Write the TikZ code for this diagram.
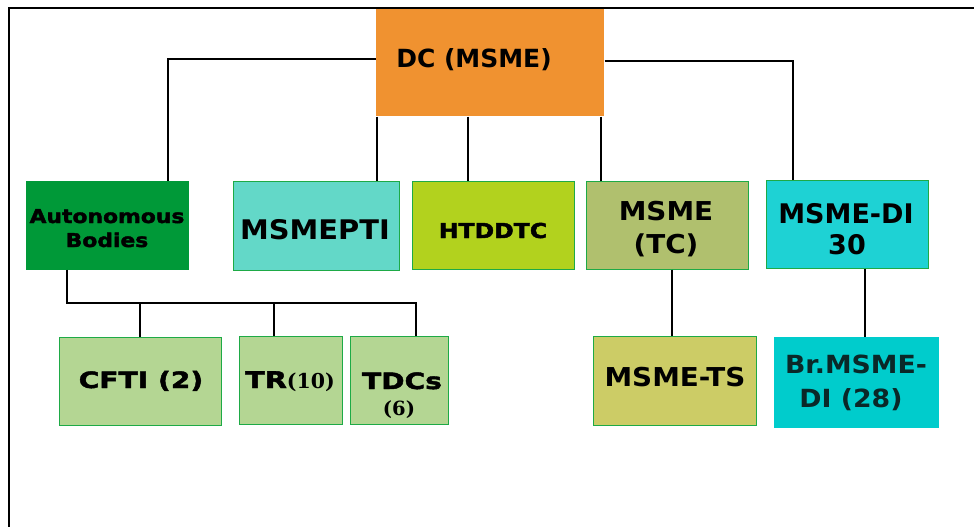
\documentclass[tikz,border=0pt]{standalone}
\usepackage{fontspec}
\newfontfamily\fd{DejaVu Sans}
\newfontfamily\fa[FakeStretch=1.07]{DejaVu Sans}
\newfontfamily\fb[FakeStretch=1.15,FakeBold=2]{DejaVu Sans}
\newfontfamily\fc[FakeStretch=1.25,FakeBold=2]{DejaVu Sans}
\newfontfamily\fs{DejaVu Serif}
\newcommand\setfsz[2]{\fontsize{#1}{#2}\selectfont}
\definecolor{dcorange}{RGB}{240,146,48}
\definecolor{autog}{RGB}{0,153,56}
\definecolor{ptic}{RGB}{99,216,200}
\definecolor{htdc}{RGB}{178,210,30}
\definecolor{tcc}{RGB}{176,192,110}
\definecolor{dic}{RGB}{30,210,212}
\definecolor{lgreen}{RGB}{180,214,147}
\definecolor{tsc}{RGB}{204,204,102}
\definecolor{brc}{RGB}{0,204,204}
\definecolor{boxline}{RGB}{30,170,70}
\definecolor{brtext}{RGB}{10,40,40}
\tikzset{
  box/.style={draw=boxline, line width=0.7pt, inner sep=0pt, anchor=north west},
  lbl/.style={inner sep=0pt, anchor=base, text=black},
  link/.style={draw=black, line width=1.3pt},
  frameline/.style={draw=black, line width=1.6pt},
}
\begin{document}
\begin{tikzpicture}[x=1pt,y=-1pt]
\useasboundingbox (0,0) rectangle (974,527);
\fill[white] (0,0) rectangle (974,527);
% frame
\draw[frameline] (9,527) -- (9,8) -- (974,8);
% boxes
\node[box, draw=none, fill=dcorange, minimum width=228pt, minimum height=107pt] (dc) at (376,9) {};
\node[box, draw=autog, fill=autog, minimum width=162pt, minimum height=88pt] (auto) at (26,181) {};
\node[box, fill=ptic, minimum width=166pt, minimum height=89pt] (pti) at (233,181) {};
\node[box, fill=htdc, minimum width=162pt, minimum height=88pt] (htd) at (412,181) {};
\node[box, fill=tcc, minimum width=162pt, minimum height=88pt] (tc) at (586,181) {};
\node[box, fill=dic, minimum width=162pt, minimum height=88pt] (di) at (766,180) {};
\node[box, fill=lgreen, minimum width=162pt, minimum height=88pt] (cfti) at (59,337) {};
\node[box, fill=lgreen, minimum width=103pt, minimum height=88pt] (tr) at (239,336) {};
\node[box, fill=lgreen, minimum width=98pt, minimum height=88pt] (tdc) at (350,336) {};
\node[box, fill=tsc, minimum width=163pt, minimum height=89pt] (ts) at (593,336) {};
\node[box, draw=brc, fill=brc, minimum width=164pt, minimum height=90pt] (br) at (774,337) {};
% texts
\node[lbl, font={\fd\bfseries\setfsz{25}{28}}] (dct) at (474,67) {DC (MSME)};
\node[lbl, font={\fb\bfseries\setfsz{19}{24}}] (autot1) at (107,223) {Autonomous};
\node[lbl, font={\fb\bfseries\setfsz{19}{24}}] (autot2) at (107,247) {Bodies};
\node[lbl, font={\fa\bfseries\setfsz{27}{32}}] (ptit) at (315,239) {MSMEPTI};
\node[lbl, font={\fb\bfseries\setfsz{20.5}{24}}] (htdt) at (493,238) {HTDDTC};
\node[lbl, font={\fa\bfseries\setfsz{26}{32}}] (tct1) at (666,220) {MSME};
\node[lbl, font={\fa\bfseries\setfsz{26}{32}}] (tct2) at (666,253) {(TC)};
\node[lbl, font={\fd\bfseries\setfsz{27}{32}}] (dit1) at (846,223) {MSME-DI};
\node[lbl, font={\fd\bfseries\setfsz{27}{32}}] (dit2) at (847,254) {30};
\node[lbl, font={\fc\bfseries\setfsz{22.5}{26}}] (cftit) at (141,388) {CFTI (2)};
\node[lbl, anchor=base west, font={\fc\bfseries\setfsz{23}{26}}] (trt) at (245,388) {TR{\fs\bfseries\setfsz{20.5}{22}(10)}};
\node[lbl, font={\fc\bfseries\setfsz{22.5}{26}}] (tdct1) at (402,389) {TDCs};
\node[lbl, font={\fs\bfseries\setfsz{19.5}{22}}] (tdct2) at (399,415) {(6)};
\node[lbl, font={\fa\bfseries\setfsz{26}{30}}] (tst) at (675,386) {MSME-TS};
\node[lbl, text=brtext, font={\fa\bfseries\setfsz{25}{30}}] (brt1) at (856,373) {Br.MSME-};
\node[lbl, text=brtext, font={\fa\bfseries\setfsz{25}{30}}] (brt2) at (851,407) {DI (28)};
% connector junctions
\coordinate (j1) at (168,59);
\coordinate (j2) at (793,61);
\coordinate (v1) at (377,0);
\coordinate (v2) at (468,0);
\coordinate (v3) at (601,0);
\coordinate (h1) at (67,303);
\coordinate (h2) at (416,303);
\coordinate (c1) at (140,303);
\coordinate (c2) at (274,303);
\coordinate (k1) at (672,0);
\coordinate (k2) at (865,0);
% connectors
\draw[link] (dc.west |- j1) -- (j1) -- (j1 |- auto.north);
\draw[link] (dc.east |- j2) -- (j2) -- (j2 |- di.north);
\draw[link] (v1 |- dc.south) -- (v1 |- pti.north);
\draw[link] (v2 |- dc.south) -- (v2 |- htd.north);
\draw[link] (v3 |- dc.south) -- (v3 |- tc.north);
\draw[link] (h1 |- auto.south) -- (h1) -- (h2) -- (h2 |- tdc.north);
\draw[link] (c1) -- (c1 |- cfti.north);
\draw[link] (c2) -- (c2 |- tr.north);
\draw[link] (k1 |- tc.south) -- (k1 |- ts.north);
\draw[link] (k2 |- di.south) -- (k2 |- br.north);
\end{tikzpicture}
\end{document}
